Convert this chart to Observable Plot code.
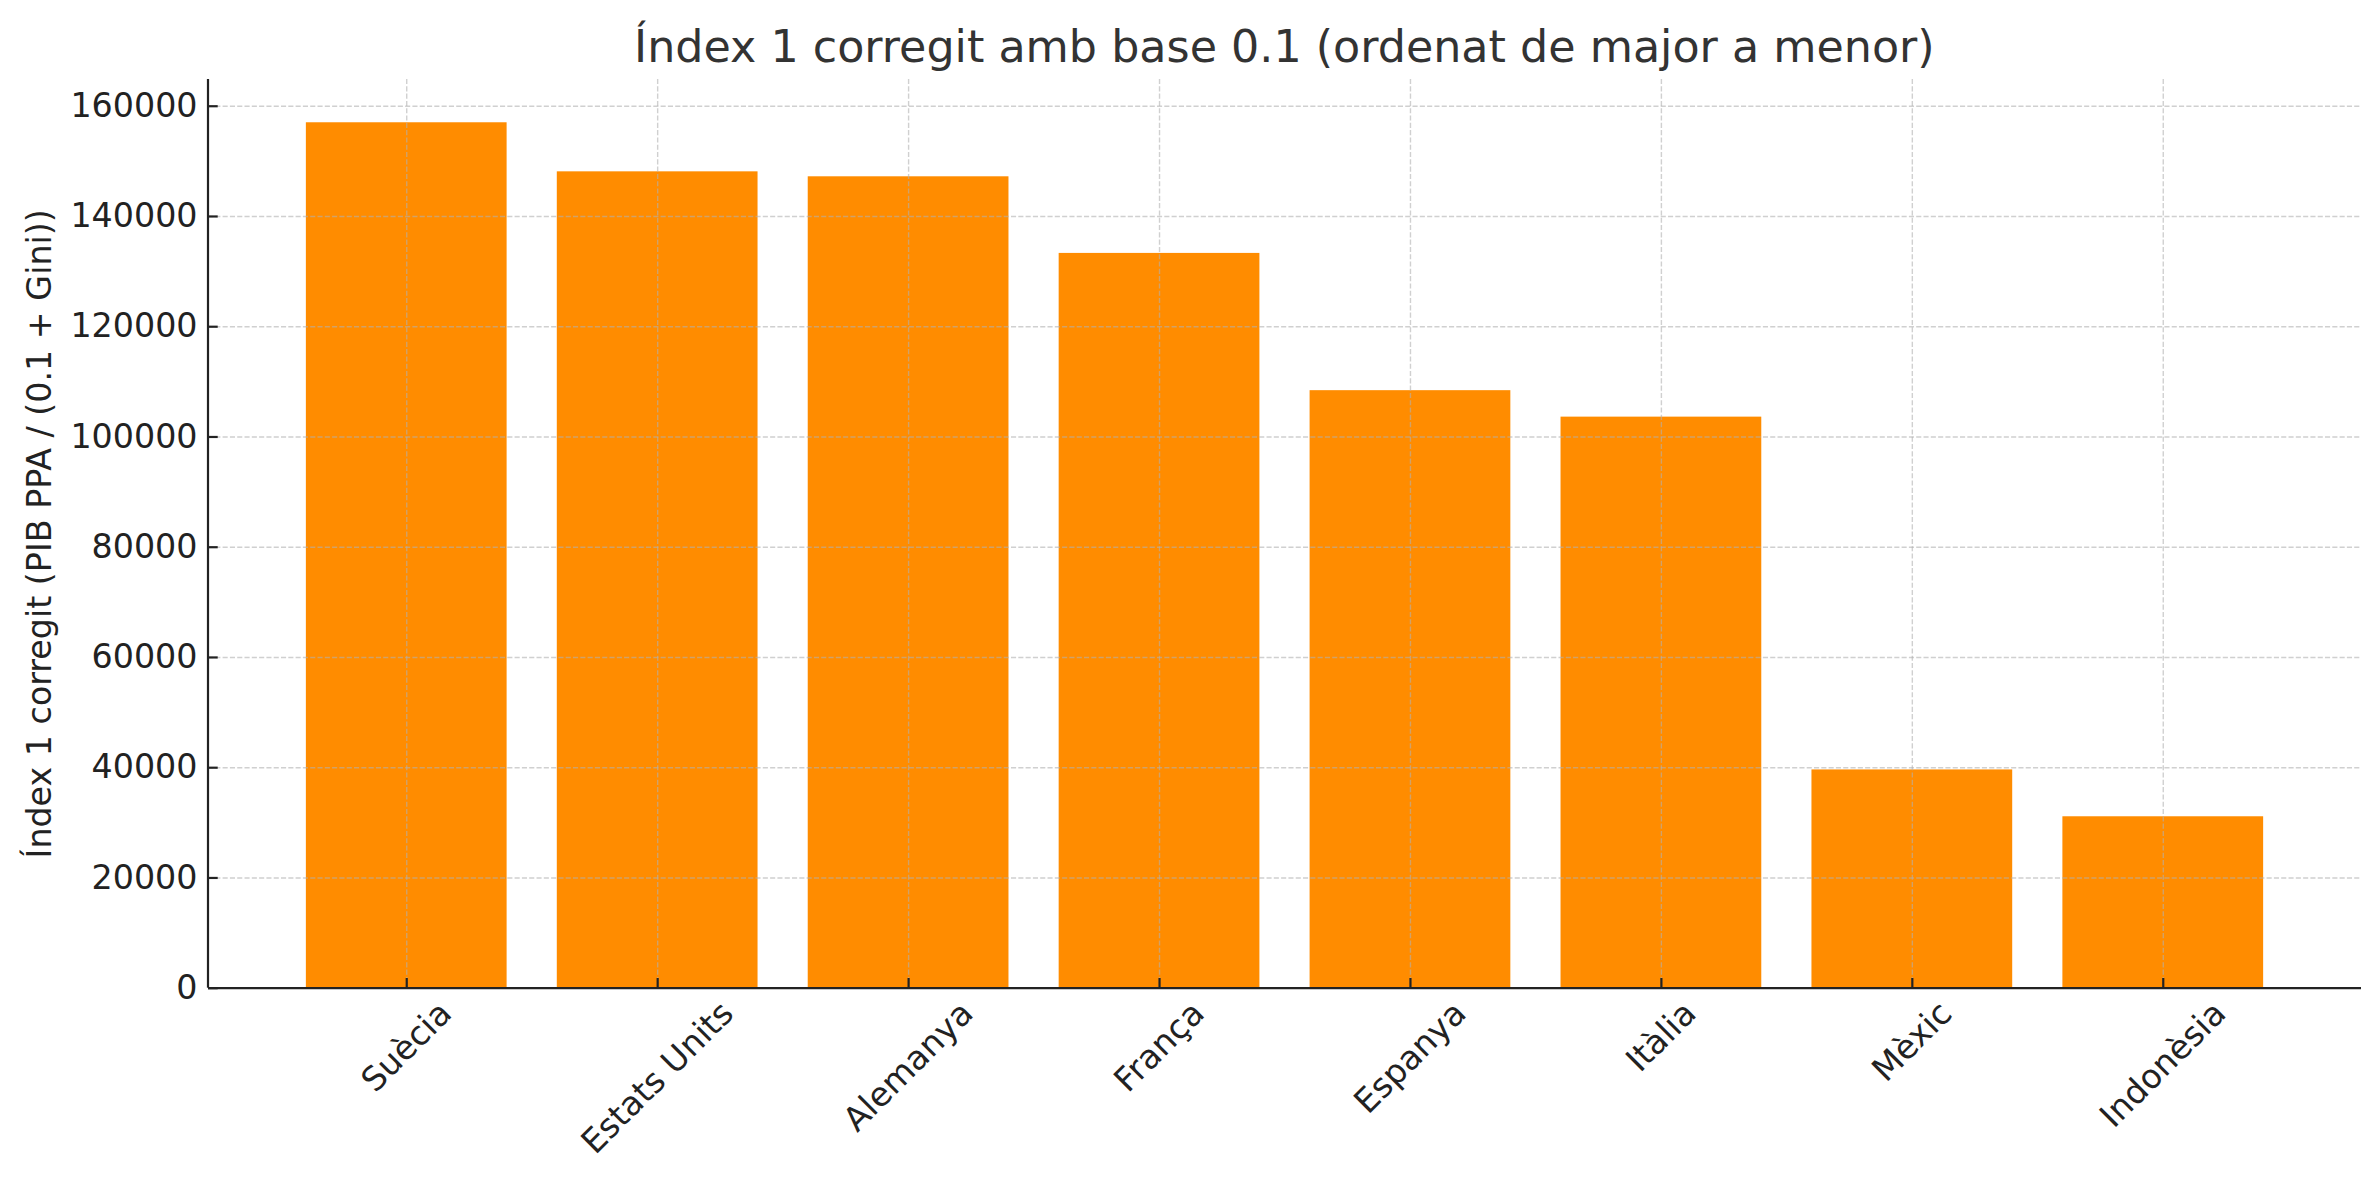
<!DOCTYPE html>
<html><head><meta charset="utf-8">
<script src="https://cdn.jsdelivr.net/npm/d3@7"></script>
<script src="https://cdn.jsdelivr.net/npm/@observablehq/plot@0.6"></script>
<style>
body{margin:0;background:#fff;}
#wrap{position:relative;width:2379px;height:1180px;overflow:hidden;}
#title{position:relative;height:70px;font-family:"DejaVu Sans";font-size:44.4px;color:#333;}
#title span{position:absolute;left:1284.4px;top:24.7px;line-height:1;transform:translateX(-50%);white-space:nowrap;}
</style></head><body>
<div id="wrap"><div id="title"><span>Índex 1 corregit amb base 0.1 (ordenat de major a menor)</span></div><div id="chart"></div></div>
<script>
const countries = ["Suècia", "Estats Units", "Alemanya", "França", "Espanya", "Itàlia", "Mèxic", "Indonèsia"];
const values = [157000, 148100, 147200, 133300, 108400, 103600, 39600, 31100];
const yTicks = [0, 20000, 40000, 60000, 80000, 100000, 120000, 140000, 160000];
const yLabel = "Índex 1 corregit (PIB PPA / (0.1 + Gini))";
const yMax = 164850;

const data = countries.map((c, i) => ({country: c, value: values[i]}));

const W = 2379, H = 1110;
const mL = 208, mR = 18, mT = 9, mB = 192.3;
const plotW = W - mL - mR, plotH = H - mT - mB;
const fontPx = 33.3;
const ink = "#222";

const ctx = document.createElement("canvas").getContext("2d");
ctx.font = `${fontPx}px "DejaVu Sans"`;
const labelMarks = countries.map(c => {
  const w = ctx.measureText(c).width;
  const dy = 6 + (w + 1.164 * fontPx) * Math.SQRT1_2 / 2;
  return Plot.text([c], {x: d => d, frameAnchor: "bottom", dy, rotate: -45, textAnchor: "middle", lineAnchor: "middle", fill: ink, fontSize: fontPx});
});

const gridStyle = {stroke: "#b0b0b0", strokeOpacity: 0.6, strokeWidth: 1.4, strokeDasharray: "5.1,2.2"};

const chart = Plot.plot({
  width: W, height: H,
  marginLeft: mL, marginRight: mR, marginTop: mT, marginBottom: mB,
  style: {fontFamily: "DejaVu Sans", fontSize: fontPx + "px", color: ink, background: "#fff"},
  x: {type: "band", domain: countries, paddingInner: 0.2, paddingOuter: 0.39, align: 0.5, round: false, axis: null},
  y: {domain: [0, yMax], axis: null},
  marks: [
    Plot.barY(data, {x: "country", y: "value", fill: "#FF8C00"}),
    Plot.gridX(countries, {...gridStyle}),
    Plot.gridY(yTicks, {...gridStyle}),
    Plot.ruleY([0], {stroke: ink, strokeWidth: 2.2}),
    Plot.rect([0], {y1: 0, y2: yMax, insetLeft: -1.1, insetRight: plotW - 1.1, fill: ink}),
    Plot.tickY(yTicks, {y: d => d, insetRight: plotW - 9.7, stroke: ink, strokeWidth: 2.2}),
    Plot.tickX(countries, {x: d => d, insetTop: plotH - 9.7, stroke: ink, strokeWidth: 2.2}),
    Plot.axisY(yTicks, {tickSize: 0, tickPadding: 11, tickFormat: d => String(d), label: null, fill: ink, fontSize: fontPx}),
    ...labelMarks,
    Plot.text([yLabel], {frameAnchor: "left", dx: -168, rotate: -90, textAnchor: "middle", lineAnchor: "middle", fill: ink, fontSize: fontPx})
  ]
});
document.getElementById("chart").appendChild(chart);
</script>
</body></html>
